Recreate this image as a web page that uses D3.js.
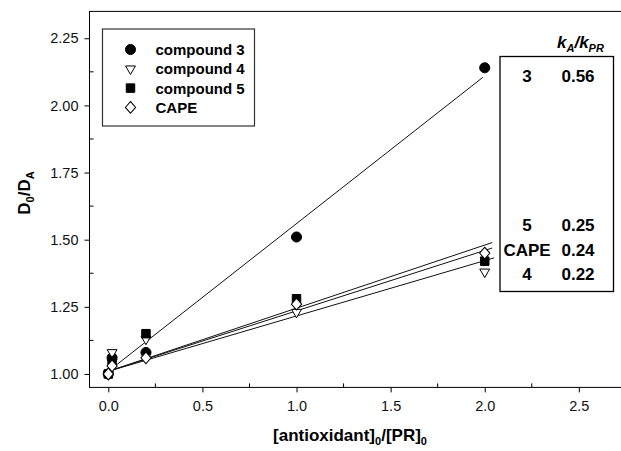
<!DOCTYPE html>
<html>
<head>
<meta charset="utf-8">
<script src="https://cdn.jsdelivr.net/npm/d3@7/dist/d3.min.js"></script>
<style>
  body { margin: 0; background: #fff; }
  svg { display: block; font-family: Arial, "Liberation Sans", sans-serif; }
</style>
</head>
<body>
<div id="chart"></div>
<script>
// data
const xVals = [0, 0.02, 0.2, 1.0, 2.0];
const comp3 = [1.00, 1.06, 1.08, 1.51, 2.14];
const comp4 = [1.00, 1.08, 1.13, 1.23, 1.38];
const comp5 = [1.00, 1.05, 1.15, 1.28, 1.42];
const cape  = [1.00, 1.03, 1.06, 1.26, 1.45];

const seriesNames = ["compound 3", "compound 4", "compound 5", "CAPE"];
// linear fits (slope, intercept, x where the line stops)
const fitSlope     = [0.55, 0.206, 0.235, 0.225];
const fitIntercept = [1.01, 1.01, 1.01, 1.01];
const fitEnd       = [1.99, 2.05, 2.04, 2.04];

const tableNames  = ["3", "5", "CAPE", "4"];
const tableValues = ["0.56", "0.25", "0.24", "0.22"];

const xTicks = [0, 0.5, 1.0, 1.5, 2.0, 2.5];
const yTicks = [1.00, 1.25, 1.50, 1.75, 2.00, 2.25];

drawChart();

function drawChart() {
  const width = 621, height = 451;
  const svg = d3.select("#chart").append("svg")
    .attr("width", width)
    .attr("height", height);

  // axes ranges
  const x = d3.scaleLinear().domain([-0.1, 2.75]).range([89.5, 89.5 + 2.85 * 188.2]);
  const y = d3.scaleLinear().domain([0.95, 2.35]).range([387.4, 11.4]);

  const left = x(-0.1), right = x(2.75), top = y(2.35), bottom = y(0.95);

  // frame
  svg.append("rect")
    .attr("x", left).attr("y", top)
    .attr("width", right - left).attr("height", bottom - top)
    .attr("fill", "none").attr("stroke", "#000").attr("stroke-width", 1);

  // x axis: major ticks outside, minor inside
  const xAxis = svg.append("g").attr("transform", `translate(0,${bottom})`)
    .call(d3.axisBottom(x).tickValues(xTicks).tickFormat(d3.format(".1f")).tickSizeOuter(0).tickSize(5).tickPadding(8));
  xAxis.select(".domain").remove();
  xAxis.selectAll("text").attr("font-size", "14.5px").attr("font-family", "Arial, 'Liberation Sans', sans-serif").attr("fill", "#111");

  const xMinor = d3.range(0.25, 2.75, 0.5);
  svg.append("g").selectAll("line").data(xMinor).join("line")
    .attr("x1", d => x(d)).attr("x2", d => x(d))
    .attr("y1", bottom).attr("y2", bottom - 4)
    .attr("stroke", "#000");

  const yAxis = svg.append("g").attr("transform", `translate(${left},0)`)
    .call(d3.axisLeft(y).tickValues(yTicks).tickFormat(d3.format(".2f")).tickSizeOuter(0).tickSize(5).tickPadding(6));
  yAxis.select(".domain").remove();
  yAxis.selectAll("text").attr("font-size", "14.5px").attr("font-family", "Arial, 'Liberation Sans', sans-serif").attr("fill", "#111");

  const yMinor = d3.range(1.125, 2.35, 0.25);
  svg.append("g").selectAll("line").data(yMinor).join("line")
    .attr("x1", left).attr("x2", left + 4)
    .attr("y1", d => y(d)).attr("y2", d => y(d))
    .attr("stroke", "#000");

  // axis titles
  const xt = svg.append("text")
    .attr("x", 350).attr("y", 441)
    .attr("text-anchor", "middle")
    .attr("font-size", "17px").attr("font-weight", "bold");
  xt.append("tspan").text("[antioxidant]");
  xt.append("tspan").attr("font-size", "11px").attr("dy", 4).text("0");
  xt.append("tspan").attr("dy", -4).text("/[PR]");
  xt.append("tspan").attr("font-size", "11px").attr("dy", 4).text("0");

  const yt = svg.append("text")
    .attr("transform", "translate(30,193) rotate(-90)")
    .attr("text-anchor", "middle")
    .attr("font-size", "17px").attr("font-weight", "bold");
  yt.append("tspan").text("D");
  yt.append("tspan").attr("font-size", "11px").attr("dy", 4).text("0");
  yt.append("tspan").attr("dy", -4).text("/D");
  yt.append("tspan").attr("font-size", "11px").attr("dy", 4).text("A");

  // fit lines
  const line = d3.line().x(d => x(d[0])).y(d => y(d[1]));
  for (let i = 0; i < seriesNames.length; i++) {
    svg.append("path")
      .attr("fill", "none")
      .attr("stroke", "#111")
      .attr("stroke-width", 1)
      .attr("d", line([[0, fitIntercept[i]], [fitEnd[i], fitIntercept[i] + fitSlope[i] * fitEnd[i]]]));
  }

  // markers
  const allSeries = [comp3, comp4, comp5, cape];
  const symbols = [
    { type: d3.symbolCircle, size: 80, fill: "#000" },
    { type: d3.symbolTriangle, size: 42, fill: "#fff", rot: 180 },
    { type: d3.symbolSquare, size: 72, fill: "#000" },
    { type: d3.symbolDiamond, size: 40, fill: "#fff", sx: 1.5 }
  ];

  function drawSymbol(g, s, cx, cy) {
    g.append("path")
      .attr("d", d3.symbol().type(s.type).size(s.size)())
      .attr("transform", `translate(${cx},${cy})` + (s.rot ? ` rotate(${s.rot})` : "") + (s.sx ? ` scale(${s.sx},1)` : ""))
      .attr("fill", s.fill)
      .attr("stroke", "#000")
      .attr("stroke-width", s.sx ? 0.8 : 1);
  }

  for (let i = 0; i < allSeries.length; i++) {
    const g = svg.append("g");
    allSeries[i].forEach((v, j) => drawSymbol(g, symbols[i], x(xVals[j]), y(v)));
  }

  // legend
  const legend = svg.append("g");
  legend.append("rect")
    .attr("x", 102.5).attr("y", 29).attr("width", 152).attr("height", 97)
    .attr("fill", "#fff").attr("stroke", "#333").attr("stroke-width", 1.2);
  seriesNames.forEach((name, i) => {
    const ly = 49.5 + i * 19.3;
    drawSymbol(legend, symbols[i], 130.5, ly);
    legend.append("text")
      .attr("x", 155.5).attr("y", ly + 5.5)
      .attr("font-size", "15px").attr("font-weight", "bold")
      .text(name);
  });

  // kA/kPR table
  const hdr = svg.append("text")
    .attr("x", 557).attr("y", 48)
    .attr("font-size", "17px").attr("font-weight", "bold").attr("font-style", "italic");
  hdr.append("tspan").text("k");
  hdr.append("tspan").attr("font-size", "11px").attr("dy", 4).text("A");
  hdr.append("tspan").attr("dy", -4).text("/k");
  hdr.append("tspan").attr("font-size", "11px").attr("dy", 4).text("PR");

  svg.append("rect")
    .attr("x", 500).attr("y", 56.5).attr("width", 113.5).attr("height", 235)
    .attr("fill", "#fff").attr("stroke", "#000").attr("stroke-width", 1.3);

  const rowY = [82, 231, 256, 280];
  tableNames.forEach((n, i) => {
    svg.append("text")
      .attr("x", 527).attr("y", rowY[i])
      .attr("text-anchor", "middle")
      .attr("font-size", "17px").attr("font-weight", "bold")
      .text(n);
    svg.append("text")
      .attr("x", 578).attr("y", rowY[i])
      .attr("text-anchor", "middle")
      .attr("font-size", "17px").attr("font-weight", "bold")
      .text(tableValues[i]);
  });
}
</script>
</body>
</html>
